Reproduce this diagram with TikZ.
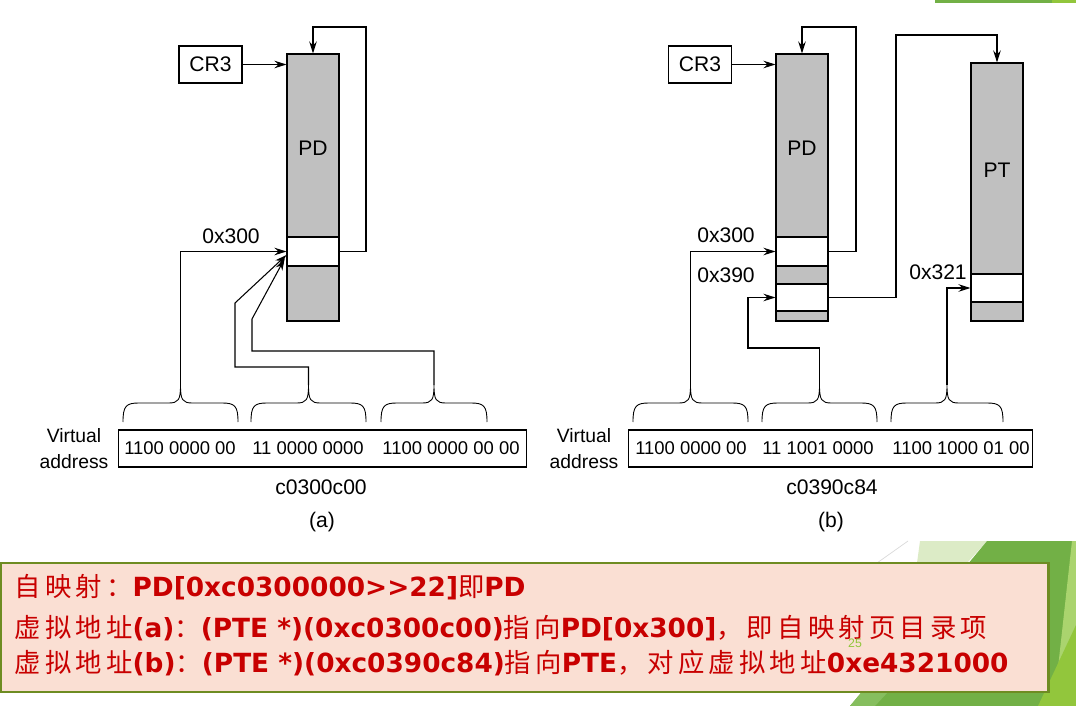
\documentclass[tikz,border=0pt]{standalone}
\usepackage{fontspec}
\setmainfont{Liberation Sans}
\newfontfamily\cjk[LetterSpace=16]{Noto Sans CJK SC}
\newfontfamily\latb{DejaVu Sans}
\newcommand{\zhn}[1]{{\cjk #1}}
\newcommand{\enb}[1]{{\latb\bfseries #1}}
\usetikzlibrary{arrows.meta, positioning}

\definecolor{colgray}{RGB}{192,192,192}
\definecolor{notered}{RGB}{200,0,0}
\definecolor{notefill}{RGB}{250,223,211}
\definecolor{noteline}{RGB}{110,140,34}
\definecolor{leafdark}{RGB}{114,176,70}
\definecolor{leafmid}{RGB}{134,190,94}
\definecolor{leaflight}{RGB}{170,212,110}
\definecolor{leafpale}{RGB}{220,235,198}
\definecolor{leafyellow}{RGB}{146,198,60}

\begin{document}
\begin{tikzpicture}[x=0.02cm, y=-0.02cm, >={Stealth[length=2.4mm,width=1.5mm]}, line width=0.6pt,
    reg/.style={draw, minimum width=1.26cm, minimum height=0.74cm, inner sep=0pt, font=\fontsize{12}{14}\selectfont},
    tbl/.style={draw, fill=colgray, minimum width=1.04cm, inner sep=0pt},
    slot/.style={draw, fill=white, minimum width=1.04cm, inner sep=0pt},
    lbl/.style={font=\fontsize{12}{14}\selectfont, inner sep=0pt},
    bits/.style={font=\fontsize{10.5}{12}\selectfont, inner sep=0pt},
    vlbl/.style={font=\fontsize{11}{14.7}\selectfont, align=center, inner sep=0pt},
    vbox/.style={draw, minimum width=8.18cm, minimum height=0.74cm, inner sep=0pt},
    brc/.style={line width=0.5pt},
    note/.style={text=notered, font=\fontsize{15}{17}\selectfont, inner sep=0pt, anchor=west}]
    \useasboundingbox (0,0) rectangle (1076,706);

    % 0. Nền trang trí màu xanh lá
    \fill[leafdark] (935,0) rectangle (1052,3);
    \fill[leafyellow] (1052,0) rectangle (1076,3);
    \fill[leafpale] (920,541) -- (987,541) -- (967,563) -- (917,563) -- cycle;
    \fill[leafdark] (987,541) -- (1076,541) -- (1076,706) -- (850,706) -- cycle;
    \fill[leafmid] (850,706) -- (875,706) -- (888,692) -- (862,692) -- cycle;
    \fill[leaflight] (1072,541) -- (1076,541) -- (1076,630) -- (1058,668) -- cycle;
    \fill[leafyellow] (1076,625) -- (1076,706) -- (1038,706) -- cycle;
    \draw[black!15, line width=0.4pt] (877,563) -- (908,541);

    % 1. Hình (a): CR3, PD
    \node[reg] (cra) at (210.5,64.5) {CR3};
    \node[tbl, minimum height=5.34cm] (pda) at (313,187.5) {};
    \node[lbl] (pdla) at (313,148) {PD};
    \node[slot, minimum height=0.58cm] (ea) at (313,251.5) {};
    \node[lbl] (oxa) at (231,236) {0x300};
    \draw[->] (cra.east) -- (cra.east -| pda.west);
    \draw[->] (ea.east) -| (366,27) -| (pda.north);

    % Địa chỉ ảo (a)
    \node[vlbl] (vla) at (74,449) {Virtual\\address};
    \node[vbox] (vba) at (322.5,448.5) {};
    \node[bits] (ba1t) at (180,448) {1100 0000 00};
    \node[bits] (ba2t) at (308,448) {11 0000 0000};
    \node[bits] (ba3t) at (451,448) {1100 0000 00 00};
    \node[lbl] (hexa) at (321,487) {c0300c00};
    \node[lbl] (capa) at (322,522) {(a)};
    \foreach \xl/\xr/\nm in {123/238/ba1, 251/366/ba2, 381/487/ba3} {
        \pgfmathsetmacro\xm{(\xl+\xr)/2}
        \draw[brc] (\xl,422) .. controls (\xl,406) and (\xl+3,403) .. (\xl+16,403) -- (\xm-12,403)
            .. controls (\xm-2,403) and (\xm,400) .. (\xm,385) coordinate (\nm)
            .. controls (\xm,400) and (\xm+2,403) .. (\xm+12,403) -- (\xr-16,403)
            .. controls (\xr-3,403) and (\xr,406) .. (\xr,422);
    }
    \draw[->] (ba1) |- (ea.west);
    \draw[->] (ba2) |- (235,367) -- (235,303) -- ([yshift=-2pt]ea.west);
    \draw[->] (ba3) |- (252,351) -- (252,319) -- ([xshift=-1pt,yshift=-4pt]ea.west);

    % 2. Hình (b): CR3, PD, PT
    \node[reg] (crb) at (700,64.5) {CR3};
    \node[tbl, minimum height=5.34cm] (pdb) at (802,187.5) {};
    \node[lbl] (pdlb) at (802,148) {PD};
    \node[slot, minimum height=0.58cm] (eb1) at (802,251.5) {};
    \node[slot, minimum height=0.54cm] (eb2) at (802,297.5) {};
    \node[lbl] (oxb1) at (726,235) {0x300};
    \node[lbl] (oxb2) at (726,275) {0x390};
    \node[tbl, minimum height=5.16cm] (ptb) at (997,192) {};
    \node[lbl] (ptlb) at (997,170) {PT};
    \node[slot, minimum height=0.56cm] (ec) at (997,288) {};
    \node[lbl] (oxc) at (938,272) {0x321};
    \draw[->] (crb.east) -- (crb.east -| pdb.west);
    \draw[->] (eb1.east) -| (856,27) -| (pdb.north);
    \draw[->] (eb2.east) -| (896,35) -| (ptb.north);

    % Địa chỉ ảo (b)
    \node[vlbl] (vlb) at (584,449) {Virtual\\address};
    \node[vbox, minimum width=8.1cm] (vbb) at (830.5,448.5) {};
    \node[bits] (bb1t) at (691,448) {1100 0000 00};
    \node[bits] (bb2t) at (818,448) {11 1001 0000};
    \node[bits] (bb3t) at (961,448) {1100 1000 01 00};
    \node[lbl] (hexb) at (832,487) {c0390c84};
    \node[lbl] (capb) at (831,522) {(b)};
    \foreach \xl/\xr/\nm in {633/748/bb1, 762/877/bb2, 891/1003/bb3} {
        \pgfmathsetmacro\xm{(\xl+\xr)/2}
        \draw[brc] (\xl,422) .. controls (\xl,406) and (\xl+3,403) .. (\xl+16,403) -- (\xm-12,403)
            .. controls (\xm-2,403) and (\xm,400) .. (\xm,385) coordinate (\nm)
            .. controls (\xm,400) and (\xm+2,403) .. (\xm+12,403) -- (\xr-16,403)
            .. controls (\xr-3,403) and (\xr,406) .. (\xr,422);
    }
    \draw[->] (bb1) |- (eb1.west);
    \draw[->] (bb2) |- (748,348) |- (eb2.west);
    \draw[->] (bb3) |- (ec.west);

    % 3. Khung ghi chú
    \draw[noteline, line width=1.7pt, fill=notefill] (1,563) rectangle (1048,692);
    \node[note] (n1) at (14,587) {\zhn{自映射：}\enb{PD[0xc0300000>{}>22]}\zhn{即}\enb{PD}};
    \node[note] (n2) at (14,628) {\zhn{虚拟地址}\enb{(a)}\zhn{：}\enb{(PTE *)(0xc0300c00)}\zhn{指向}\enb{PD[0x300]}\zhn{，即自映射页目录项}};
    \node[note] (n3) at (14,663) {\zhn{虚拟地址}\enb{(b)}\zhn{：}\enb{(PTE *)(0xc0390c84)}\zhn{指向}\enb{PTE}\zhn{，对应虚拟地址}\enb{0xe4321000}};
    \node[text=leafyellow, font=\fontsize{7}{8}\selectfont, inner sep=0pt] (pgno) at (855,643) {25};

\end{tikzpicture}
\end{document}
